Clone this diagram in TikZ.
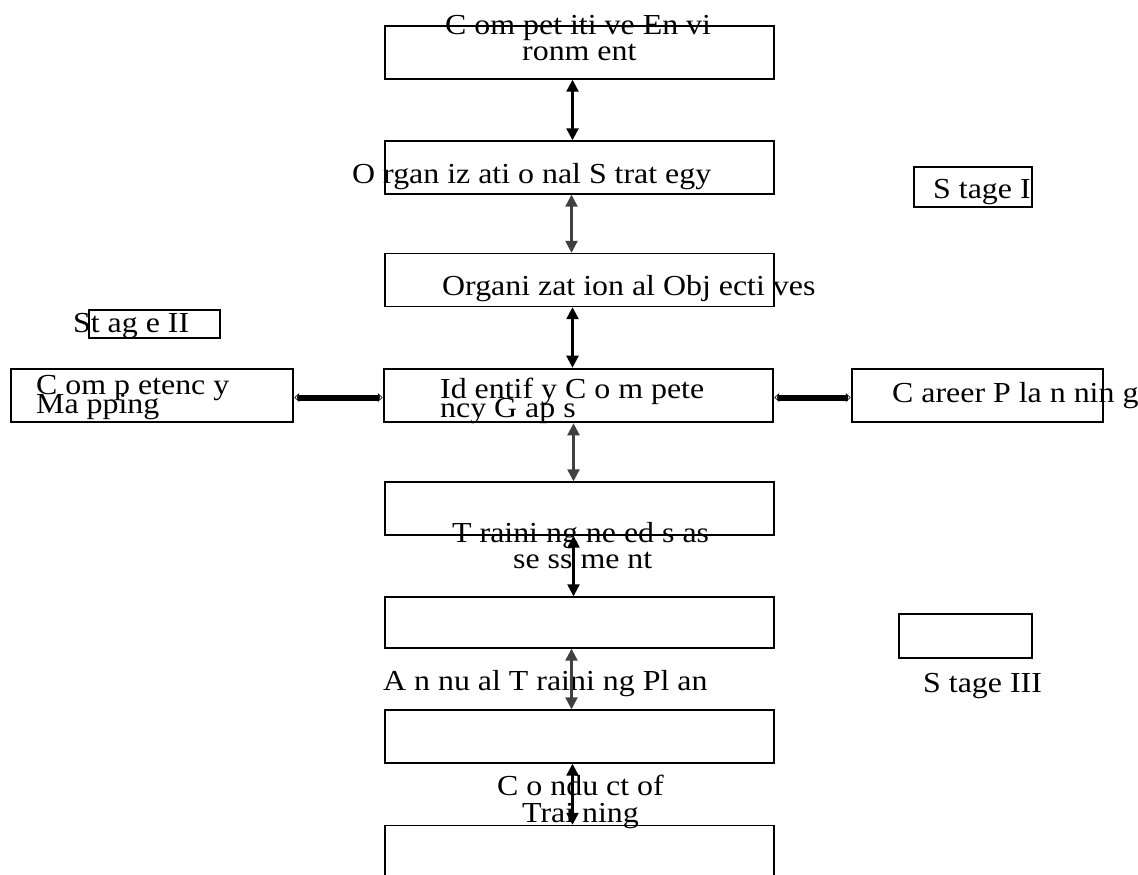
\documentclass[tikz,border=0pt]{standalone}
\usepackage{fontspec}
\setmainfont[FakeStretch=1.1]{Liberation Serif}
\usetikzlibrary{arrows.meta}
\begin{document}
\begin{tikzpicture}[x=1pt,y=-1pt,
  box/.style={draw=black,line width=1.4pt,minimum width=389pt,minimum height=53pt,inner sep=0pt},
  thickbox/.style={draw=black,line width=2.6pt,inner sep=0pt},
  stagebox/.style={draw=black,line width=1.4pt,inner sep=0pt},
  txt/.style={anchor=base west,inner sep=0pt,font=\fontsize{29}{29}\selectfont},
  varrow/.style={line width=2.4pt,{Triangle[width=12pt,length=12pt]}-{Triangle[width=12pt,length=12pt]}},
  harrow/.style={line width=6pt,{Stealth[length=5pt,width=9pt,line width=0.6pt,open]}-{Stealth[length=5pt,width=9pt,line width=0.6pt,open]}}
]
\useasboundingbox (0,0) rectangle (1138,875);
\fill[white] (0,0) rectangle (1138,875);
% boxes
\node[box] (b1) at (579.5,52.5) {};
\node[box] (b2) at (579.5,167.5) {};
\node[box] (b3) at (579.5,280) {};
\node[thickbox,minimum width=389pt,minimum height=53pt] (b4) at (578.5,395.5) {};
\node[box] (b5) at (579.5,508.5) {};
\node[box,minimum height=51pt] (b6) at (579.5,622.5) {};
\node[box] (b7) at (579.5,736.5) {};
\node[box] (b8) at (579.5,852) {};
\node[thickbox,minimum width=282pt,minimum height=53pt] (map) at (152,395.5) {};
\node[thickbox,minimum width=251pt,minimum height=53pt] (car) at (977.5,395.5) {};
\node[stagebox,minimum width=118pt,minimum height=40pt] (st1) at (973,187) {};
\node[stagebox,minimum width=131pt,minimum height=28pt] (st2) at (154.5,324) {};
\node[stagebox,minimum width=133pt,minimum height=44pt] (st3) at (965.5,636) {};
% texts
\node[txt] (t1a) at (445,35) {C om pet iti ve En vi};
\node[txt] (t1b) at (522,61) {ronm ent};
\node[txt] (t2) at (352,183) {O rgan iz ati o nal S trat egy};
\node[txt] (t3) at (442,295) {Organi zat ion al Obj ecti ves};
\node[txt] (t4a) at (440,398) {Id entif y C o m pete};
\node[txt] (t4b) at (440,417) {ncy G ap s};
\node[txt] (t5a) at (36,394) {C om p etenc y};
\node[txt] (t5b) at (36,413) {Ma pping};
\node[txt] (t6) at (892,402) {C areer P la n nin g};
\node[txt] (t7a) at (452,542) {T raini ng ne ed s as};
\node[txt] (t7b) at (513,568) {se ss me nt};
\node[txt] (t8) at (383,690) {A n nu al T raini ng Pl an};
\node[txt] (t9a) at (497,795) {C o ndu ct of};
\node[txt] (t9b) at (522,822) {Trai ning};
\node[txt] (s1) at (933,198) {S tage I};
\node[txt] (s2) at (73,332) {St ag e II};
\node[txt] (s3) at (923,692) {S tage III};
% vertical arrows
\draw[varrow] ([xshift=-7pt]b1.south) -- ([xshift=-7pt]b2.north);
\draw[varrow,draw=black!75,fill=black!75] ([xshift=-8pt]b2.south) -- ([xshift=-8pt]b3.north);
\draw[varrow] ([xshift=-7pt]b3.south) -- ([xshift=-6pt]b4.north);
\draw[varrow,draw=black!75,fill=black!75] ([xshift=-5pt]b4.south) -- ([xshift=-6pt]b5.north);
\draw[varrow] ([xshift=-6pt]b5.south) -- ([xshift=-6pt]b6.north);
\draw[varrow,draw=black!75,fill=black!75] ([xshift=-8pt]b6.south) -- ([xshift=-8pt]b7.north);
\draw[varrow] ([xshift=-7pt]b7.south) -- ([xshift=-7pt]b8.north);
% horizontal arrows
\draw[harrow] ([yshift=-2pt]map.east) -- ([yshift=-2pt]b4.west);
\draw[harrow] ([yshift=-2pt]b4.east) -- ([yshift=-2pt]car.west);
\end{tikzpicture}
\end{document}
